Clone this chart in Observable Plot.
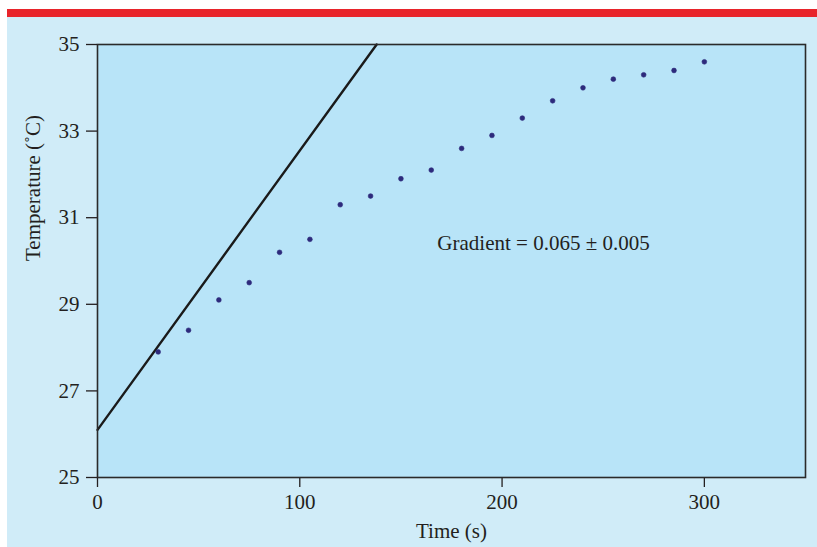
<!DOCTYPE html>
<html><head><meta charset="utf-8">
<script src="https://cdn.jsdelivr.net/npm/d3@7"></script>
<script src="https://cdn.jsdelivr.net/npm/@observablehq/plot@0.6"></script>
<style>
html,body{margin:0;padding:0;background:#fff;}
#wrap{position:absolute;left:7px;top:9px;width:810px;height:538px;}
#bar{height:8px;background:#e8242b;}
#chart svg{display:block;}
</style></head>
<body><div id="wrap"><div id="bar"></div><div id="chart"></div></div>
<script>
const times = [30, 45, 60, 75, 90, 105, 120, 135, 150, 165, 180, 195, 210, 225, 240, 255, 270, 285, 300];
const temps = [27.9, 28.4, 29.1, 29.5, 30.2, 30.5, 31.3, 31.5, 31.9, 32.1, 32.6, 32.9, 33.3, 33.7, 34.0, 34.2, 34.3, 34.4, 34.6];
const lineTimes = [0, 138];
const lineTemps = [26.1, 35];
const xTicks = [0, 100, 200, 300];
const yTicks = [25, 27, 29, 31, 33, 35];
const noteText = ["Gradient = 0.065 ± 0.005"];
const noteTime = [168];
const noteTemp = [30.4];
const xLabel = "Time (s)";
const yLabel = "Temperature (˚C)";

const points = times.map((t, i) => ({t, v: temps[i]}));
const fitLine = lineTimes.map((t, i) => ({t, v: lineTemps[i]}));
const notes = noteText.map((s, i) => ({s, t: noteTime[i], v: noteTemp[i]}));
const ink = "#231f20";
const fs = 21;

const chart = Plot.plot({
  width: 810, height: 530,
  marginLeft: 90, marginTop: 27, marginRight: 12, marginBottom: 70,
  x: {domain: [0, 350]},
  y: {domain: [25, 35]},
  style: {background: "#d0ecf8", fontFamily: "'Liberation Serif', 'Times New Roman', serif", fontSize: fs + "px", color: ink},
  marks: [
    Plot.frame({fill: "#b8e4f8"}),
    Plot.axisX({ticks: xTicks, tickSize: 10, tickPadding: 7, label: null, fontSize: fs, stroke: ink, strokeWidth: 1.3, fill: ink}),
    Plot.axisY({ticks: yTicks, tickSize: 11, tickPadding: 7, label: null, fontSize: fs, stroke: ink, strokeWidth: 1.3, fill: ink}),
    Plot.line(fitLine, {x: "t", y: "v", stroke: "#1a1a1a", strokeWidth: 2.4}),
    Plot.dot(points, {x: "t", y: "v", symbol: "circle", r: 2.4, fill: "#2d2a7c", stroke: "#2d2a7c", strokeWidth: 0.6}),
    Plot.text(notes, {x: "t", y: "v", text: "s", textAnchor: "start", fontSize: fs, fill: ink}),
    Plot.text([xLabel], {frameAnchor: "bottom", dy: 54, lineAnchor: "middle", fontSize: fs, fill: ink}),
    Plot.text([yLabel], {frameAnchor: "left", dx: -64, rotate: -90, lineAnchor: "middle", fontSize: fs, fill: ink}),
    Plot.frame({stroke: "#2a2a2a", strokeWidth: 1.6})
  ]
});
document.getElementById("chart").appendChild(chart);
</script>
</body></html>
